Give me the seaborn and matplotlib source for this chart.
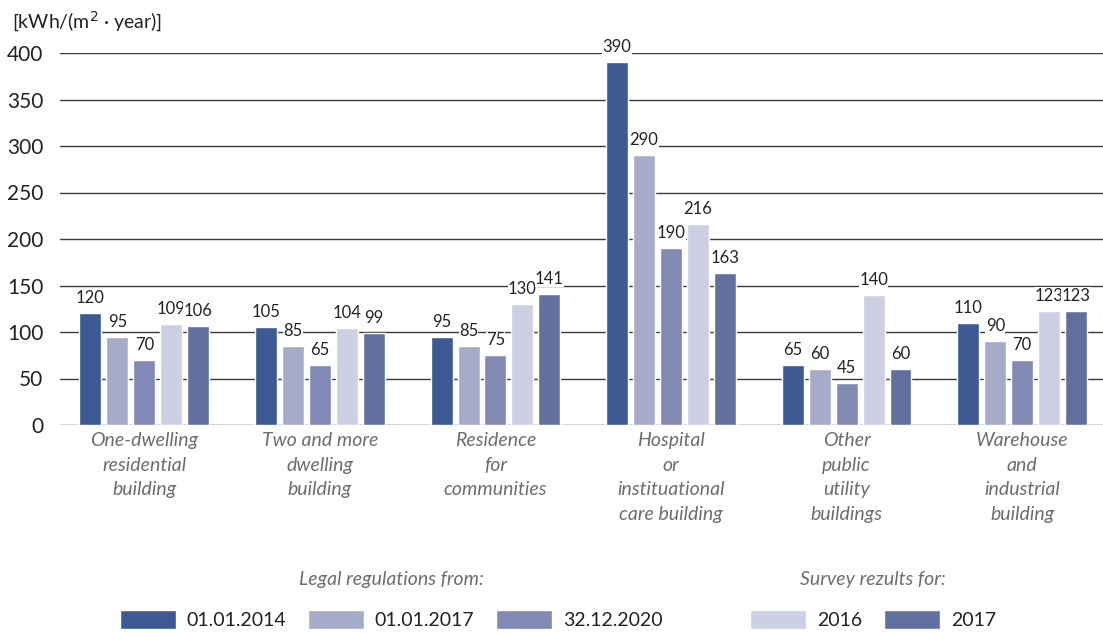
import numpy as np
import pandas as pd
import matplotlib
matplotlib.use("Agg")
import matplotlib.pyplot as plt
import seaborn as sns

# Building categories (wrapped as they appear under the axis)
categories = [
    "One-dwelling\nresidential\nbuilding",
    "Two and more\ndwelling\nbuilding",
    "Residence\nfor\ncommunities",
    "Hospital\nor\ninstituational\ncare building",
    "Other\npublic\nutility\nbuildings",
    "Warehouse\nand\nindustrial\nbuilding",
]

series_names = ["01.01.2014", "01.01.2017", "32.12.2020", "2016", "2017"]

# Energy demand values [kWh/(m2 * year)]
reg_2014 = [120, 105, 95, 390, 65, 110]
reg_2017 = [95, 85, 85, 290, 60, 90]
reg_2020 = [70, 65, 75, 190, 45, 70]
survey_2016 = [109, 104, 130, 216, 140, 123]
survey_2017 = [106, 99, 141, 163, 60, 123]

y_ticks = [0, 50, 100, 150, 200, 250, 300, 350, 400]

colors = ["#3e5a92", "#a6abc9", "#8289b4", "#cdd0e2", "#6270a0"]

values = [reg_2014, reg_2017, reg_2020, survey_2016, survey_2017]
df = pd.DataFrame(
    [(c, s, v) for s, vals in zip(series_names, values) for c, v in zip(categories, vals)],
    columns=["category", "series", "value"],
)

sns.set_theme(style="white")
plt.rcParams["font.family"] = ["Lato", "DejaVu Sans"]

fig = plt.figure(figsize=(11.03, 6.34), dpi=100)
ax = fig.add_axes([60 / 1103, (634 - 425) / 634, 1 - 60 / 1103, 372 / 634])

sns.barplot(
    data=df, x="category", y="value", hue="series",
    order=categories, hue_order=series_names,
    palette=colors, width=0.767, gap=0.185, saturation=1,
    legend=False, ax=ax, errorbar=None,
)

ax.set_ylim(0, 400)
ax.set_xlim(-0.48, 5.46)
ax.set_yticks(y_ticks)
ax.set_yticklabels([str(t) for t in y_ticks], fontsize=15, color="#222222")
ax.tick_params(axis="y", length=0, pad=12)
ax.tick_params(axis="x", length=0, pad=5)
ax.set_xticks(range(len(categories)))
ax.set_xticklabels(categories, fontsize=14, fontstyle="italic", color="#6d6d6d",
                   linespacing=1.55, va="top")
ax.set_xlabel("")
ax.set_ylabel("")
for sp in ax.spines.values():
    sp.set_visible(False)
ax.grid(axis="y", color="#3a3a3a", linewidth=1.0)
ax.grid(axis="x", visible=False)
ax.set_axisbelow(True)

for cont in ax.containers:
    ax.bar_label(
        cont, fmt="%d", padding=5, fontsize=12, color="#222222",
        bbox=dict(facecolor="white", edgecolor="none", pad=0.2),
    )

fig.text(12 / 1103, 1 - 22 / 634, "[kWh/(m$^2$ · year)]", fontsize=14,
         color="#222222", va="center", ha="left")

handles = list(ax.containers)
leg_kw = dict(
    frameon=False, fontsize=14, handlelength=2.9, handleheight=1.15,
    handletextpad=0.55, columnspacing=1.1, borderaxespad=0,
    title_fontproperties={"style": "italic", "size": 14},
    labelcolor="#222222",
)
leg1 = fig.legend(handles[:3], series_names[:3], ncol=3,
                  title="Legal regulations from:",
                  loc="center", bbox_to_anchor=(391 / 1103, 1 - 600 / 634), **leg_kw)
leg1.get_title().set_color("#6d6d6d")
leg1._legend_box.sep = 16
leg2 = fig.legend(handles[3:], series_names[3:], ncol=2,
                  title="Survey rezults for:",
                  loc="center", bbox_to_anchor=(873 / 1103, 1 - 600 / 634), **leg_kw)
leg2.get_title().set_color("#6d6d6d")
leg2._legend_box.sep = 16

fig.savefig("out.png", dpi=100)
